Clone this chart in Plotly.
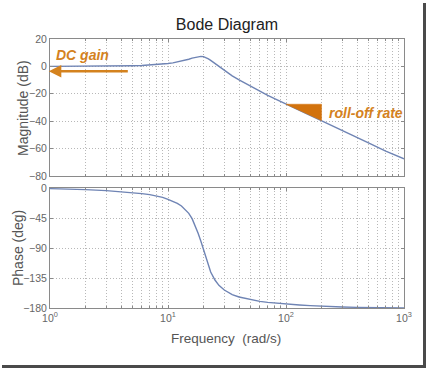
import math
import plotly.graph_objects as go

# ---- data ----
freq = [1, 1.5, 2, 3, 4, 5, 6, 7, 8, 9, 10, 11, 12, 13, 14, 15, 16, 17, 18, 19,
        20, 21, 22, 23, 25, 27, 30, 35, 40, 50, 60, 70, 80, 100, 130, 160, 200,
        300, 400, 500, 700, 1000]
magnitude_db = [0.0, 0.0, 0.1, 0.2, 0.3, 0.5, 0.7, 1.0, 1.3, 1.7, 2.1, 2.6, 3.2,
                3.8, 4.5, 5.2, 6.0, 6.6, 7.1, 7.3, 7.1, 6.5, 5.5, 4.4, 2.1, -0.1,
                -3.0, -6.9, -9.9, -14.6, -18.2, -21.1, -23.6, -27.6, -32.3, -36.0,
                -39.5, -47.0, -52.0, -55.9, -61.8, -67.5]
phase_deg = [-1, -1.5, -2.5, -4, -5.5, -7, -8.5, -10, -12, -14, -17, -20, -23,
             -27, -32, -38, -46, -56, -68, -80, -92, -104, -116, -126, -138,
             -146, -153, -160, -163.5, -167.5, -170, -171.5, -172.5, -174,
             -175.5, -176.5, -177.5, -178.5, -179, -179.3, -179.6, -179.8]

x_decades = [1, 10, 100, 1000]
x_tick_labels = ["10<sup>0</sup>", "10<sup>1</sup>", "10<sup>2</sup>", "10<sup>3</sup>"]
mag_ticks = [20, 0, -20, -40, -60, -80]
phase_ticks = [0, -45, -90, -135, -180]

dc_gain_level = -3.6          # dB, level of the orange arrow
dc_arrow_end = 4.7            # rad/s, tail of the arrow
roll_start, roll_end = 100, 200   # rad/s, roll-off triangle span

# ---- styles ----
FONT = "Liberation Sans, Arial, sans-serif"
LINE = "#6F84B4"
ORANGE = "#D4821E"
TRI = "#D2720C"
GRID = "#B8B8B8"
AXC = "#8A8A8A"
DOT = "1px,2px"

fig = go.Figure()
fig.add_trace(go.Scatter(x=freq, y=magnitude_db, mode="lines",
                         line=dict(color=LINE, width=1.4), xaxis="x", yaxis="y",
                         hoverinfo="skip"))
fig.add_trace(go.Scatter(x=freq, y=phase_deg, mode="lines",
                         line=dict(color=LINE, width=1.4), xaxis="x2", yaxis="y2",
                         hoverinfo="skip"))

i1 = freq.index(roll_start)
i2 = freq.index(roll_end)
fig.add_trace(go.Scatter(x=[roll_start, roll_end, roll_end, roll_start],
                         y=[magnitude_db[i1], magnitude_db[i1], magnitude_db[i2], magnitude_db[i1]],
                         mode="lines", fill="toself", fillcolor=TRI,
                         line=dict(color=TRI, width=0.5), xaxis="x", yaxis="y",
                         hoverinfo="skip"))

common_x = dict(type="log", range=[0, 3], tickmode="array", tickvals=x_decades,
                ticktext=x_tick_labels, tickangle=0,
                showgrid=True, gridcolor=GRID, griddash=DOT,
                gridwidth=1, showline=True, linecolor=AXC, linewidth=1, mirror="ticks",
                ticks="inside", ticklen=3, tickcolor=AXC, zeroline=False,
                automargin=False,
                minor=dict(dtick="D1", showgrid=True, gridcolor=GRID, griddash=DOT,
                           gridwidth=1, ticks="inside", ticklen=2, tickcolor=AXC),
                tickfont=dict(family=FONT, size=10.5, color="#666"))
common_y = dict(showgrid=True, gridcolor=GRID, griddash=DOT, gridwidth=1,
                showline=True, linecolor=AXC, linewidth=1, mirror="ticks",
                ticks="inside", ticklen=3, tickcolor=AXC, zeroline=False,
                automargin=False,
                tickfont=dict(family=FONT, size=10.5, color="#666"), tickmode="array")

top_dom = [(308 - 176) / 269, 1.0]
bot_dom = [0.0, (308 - 188) / 269]

fig.update_layout(
    width=428, height=370,
    margin=dict(l=50, r=24, t=39, b=62),
    paper_bgcolor="white", plot_bgcolor="white",
    showlegend=False,
    font=dict(family=FONT, color="#555"),
    title=dict(text="Bode Diagram", x=0.5, xref="paper", y=1 - 24 / 370,
               yref="container", xanchor="center", yanchor="middle",
               font=dict(family=FONT, size=16, color="#222")),
    xaxis=dict(common_x, anchor="y", domain=[0, 1], showticklabels=False),
    yaxis=dict(common_y, domain=top_dom, range=[-80, 20], tickvals=mag_ticks,
               anchor="x"),
    xaxis2=dict(common_x, anchor="y2", domain=[0, 1], matches="x"),
    yaxis2=dict(common_y, domain=bot_dom, range=[-180, 0], tickvals=phase_ticks,
                anchor="x2"),
)

annotations = [
    dict(text="Magnitude (dB)", xref="paper", yref="paper", x=(23 - 50) / 354,
         y=(308 - 108) / 269, textangle=-90, showarrow=False,
         font=dict(family=FONT, size=14, color="#555"), xanchor="center", yanchor="middle"),
    dict(text="Phase (deg)", xref="paper", yref="paper", x=(18 - 50) / 354,
         y=(308 - 248) / 269, textangle=-90, showarrow=False,
         font=dict(family=FONT, size=14, color="#555"), xanchor="center", yanchor="middle"),
    dict(text="Frequency  (rad/s)", xref="paper", yref="paper", x=(226 - 50) / 354,
         y=(308 - 338) / 269, showarrow=False,
         font=dict(family=FONT, size=13.5, color="#555"), xanchor="center", yanchor="middle"),
    dict(text="<b><i>DC gain</i></b>", xref="x", yref="y", x=math.log10(1.08), y=8,
         showarrow=False, xanchor="left", yanchor="middle",
         font=dict(family=FONT, size=14, color=ORANGE)),
    dict(text="<b><i>roll-off rate</i></b>", xref="x", yref="y",
         x=math.log10(roll_end) + 0.05, y=-34.2, showarrow=False, xanchor="left",
         yanchor="middle", font=dict(family=FONT, size=14, color=ORANGE)),
    dict(text="", xref="x", yref="y", x=-0.01, y=dc_gain_level,
         ax=math.log10(dc_arrow_end), ay=dc_gain_level, axref="x", ayref="y",
         showarrow=True, arrowhead=2, arrowsize=1, arrowwidth=2.5, arrowcolor=ORANGE),
]
fig.update_layout(annotations=annotations)

# screenshot drop-shadow frame
def px_x(p):
    return (p - 50) / 354

def px_y(p):
    return (308 - p) / 269

fig.add_shape(type="rect", xref="paper", yref="paper", x0=px_x(423), x1=px_x(426),
              y0=px_y(368), y1=px_y(3), fillcolor="#4a4a4a", line=dict(width=0),
              layer="above")
fig.add_shape(type="rect", xref="paper", yref="paper", x0=px_x(2), x1=px_x(426),
              y0=px_y(368), y1=px_y(365), fillcolor="#4a4a4a", line=dict(width=0),
              layer="above")

fig.write_html("out.html", config={"displayModeBar": False},
               post_script="document.body.style.margin='0';document.body.style.padding='0';")
